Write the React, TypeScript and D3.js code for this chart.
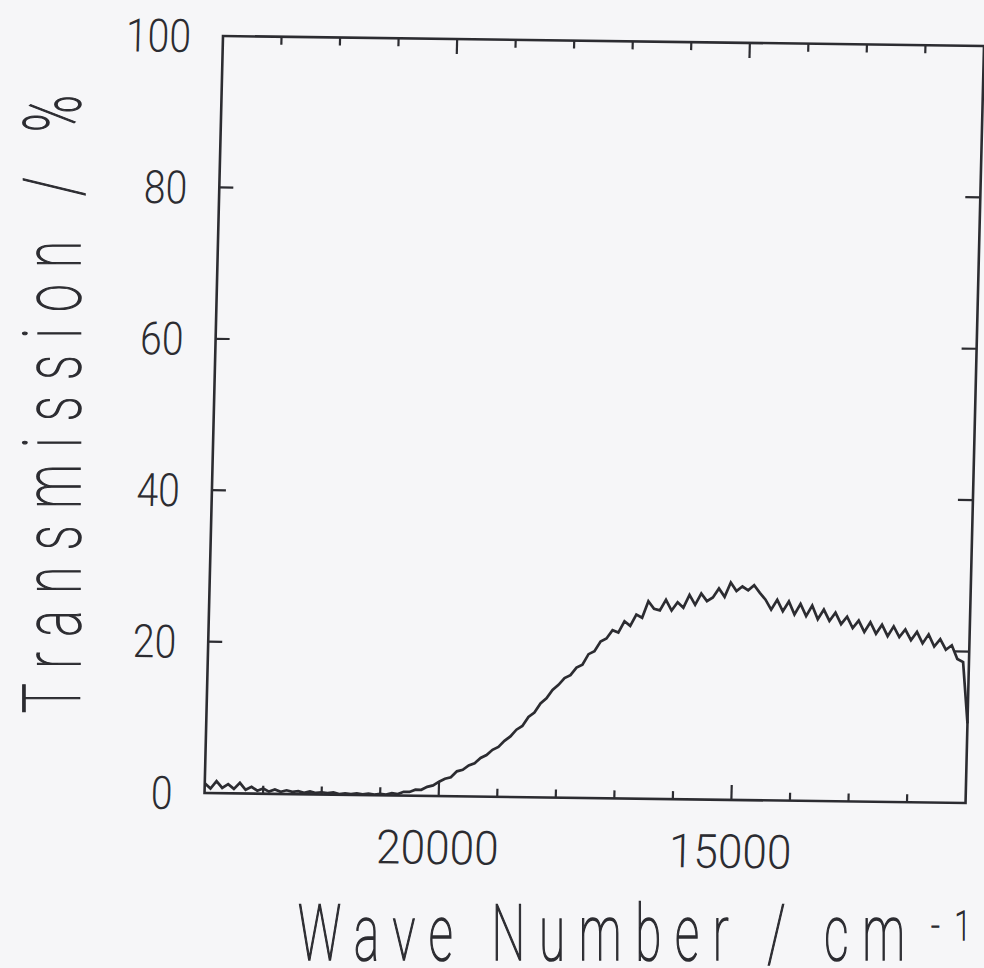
import React from "react";
import * as d3 from "d3";

// ---- data ----
const waveStart = 24000; // cm^-1, first sample
const waveStep = 100; // cm^-1 between samples
const transmission = [
  // 24000 -> 23100
  1.3, 0.6, 1.6, 0.7, 1.2, 0.6, 1.4, 0.5, 0.9, 0.4,
  // 23000 -> 22100
  0.7, 0.3, 0.6, 0.3, 0.5, 0.3, 0.4, 0.2, 0.4, 0.2,
  // 22000 -> 21100
  0.3, 0.2, 0.3, 0.1, 0.2, 0.1, 0.2, 0.1, 0.2, 0.1,
  // 21000 -> 20100
  0.2, 0.1, 0.3, 0.2, 0.5, 0.5, 0.8, 0.8, 1.2, 1.4,
  // 20000 -> 19100
  1.9, 2.3, 2.5, 3.3, 3.5, 4.1, 4.4, 5.1, 5.5, 6.2,
  // 19000 -> 18100
  6.6, 7.4, 8.0, 8.9, 9.4, 10.6, 11.2, 12.4, 13.1, 14.2,
  // 18000 -> 17100
  14.9, 15.8, 16.2, 17.2, 17.6, 19.0, 19.4, 20.7, 21.1, 22.2,
  // 17000 -> 16100
  21.9, 23.4, 22.8, 24.3, 23.9, 26.1, 25.1, 24.9, 26.3, 24.9,
  // 16000 -> 15100
  26.0, 25.3, 27.0, 25.7, 27.2, 26.2, 26.7, 27.9, 26.8, 28.7,
  // 15000 -> 14100
  27.6, 28.2, 27.7, 28.4, 27.4, 26.5, 25.2, 26.5, 25.0, 26.3,
  // 14000 -> 13100
  24.6, 26.0, 24.4, 25.8, 24.0, 25.3, 23.8, 24.9, 23.4, 24.4,
  // 13000 -> 12100
  22.9, 23.9, 22.4, 23.7, 22.2, 23.4, 21.9, 23.2, 21.8, 22.8,
  // 12000 -> 11100
  21.4, 22.5, 21.0, 22.2, 20.6, 21.6, 20.2, 20.8, 19.0, 18.6,
  // 11000
  10.5,
];
const xDomain = [24000, 11000];
const yDomain = [0, 100];
const xMajorTicks = [20000, 15000];
const xMinorTicks = [23000, 22000, 21000, 19000, 18000, 17000, 16000, 14000, 13000, 12000];
const yTicks = [20, 40, 60, 80];
const yTickLabels = ["0", "20", "40", "60", "80", "100"];
const yLabelValues = [0, 20, 40, 60, 80, 100];
const xTickLabels = ["20000", "15000"];
const xTitle = "Wave Number / cm";
const xTitleSup = "-1";
const yTitle = "Transmission / %";

// ---- layout ----
const W = 984;
const H = 968;
const PW = 761;
const PH = 757;
const INK = "#2c2c31";
const FONT = "Roboto, 'DejaVu Sans', sans-serif";

export default function App() {
  const x = d3.scaleLinear().domain(xDomain).range([0, PW]);
  const y = d3.scaleLinear().domain(yDomain).range([PH, 0]);
  const pts = transmission.map((v, i) => [waveStart - i * waveStep, v] as [number, number]);
  const line = d3
    .line<[number, number]>()
    .x((d) => x(d[0]))
    .y((d) => y(d[1]))
    .curve(d3.curveLinear);

  // slight skew of the scanned plot frame
  const frameMatrix = `matrix(1, 0.0131, -0.0244, 1, 223, 36)`;

  return (
    <svg
      width={W}
      height={H}
      style={{ position: "absolute", left: 0, top: 0, display: "block" }}
    >
      <rect x={0} y={0} width={W} height={H} fill="#f6f6f8" />
      <g transform={frameMatrix}>
        <rect x={0} y={0} width={PW} height={PH} fill="none" stroke={INK} strokeWidth={2.6} />
        {/* x ticks bottom & top */}
        {xMajorTicks.concat(xMinorTicks).map((t) => {
          const len = xMajorTicks.includes(t) ? 15 : 8;
          return (
            <g key={"xt" + t}>
              <line x1={x(t)} x2={x(t)} y1={PH} y2={PH - len} stroke={INK} strokeWidth={2.2} />
              <line x1={x(t)} x2={x(t)} y1={0} y2={len} stroke={INK} strokeWidth={2.2} />
            </g>
          );
        })}
        {/* y ticks left & right */}
        {yTicks.map((t) => (
          <g key={"yt" + t}>
            <line x1={0} x2={14} y1={y(t)} y2={y(t)} stroke={INK} strokeWidth={2.2} />
            <line x1={PW} x2={PW - 15} y1={y(t)} y2={y(t)} stroke={INK} strokeWidth={2.2} />
          </g>
        ))}
        {/* curve */}
        <path d={line(pts) || ""} fill="none" stroke={INK} strokeWidth={2.7} strokeLinejoin="miter" />
        {/* y tick labels */}
        {yLabelValues.map((v, i) => (
          <g key={"yl" + v} transform={`translate(${-32},${y(v) + 16.5}) scale(0.85,1)`}>
            <text textAnchor="end" fontFamily={FONT} fontWeight={300} fontSize={46} fill={INK}>
              {yTickLabels[i]}
            </text>
          </g>
        ))}
        {/* x tick labels */}
        {xMajorTicks.map((t, i) => (
          <g key={"xl" + t} transform={`translate(${x(t)},${PH + 68}) scale(0.94,1)`}>
            <text textAnchor="middle" fontFamily={FONT} fontWeight={300} fontSize={47} fill={INK}>
              {xTickLabels[i]}
            </text>
          </g>
        ))}
      </g>
      {/* x title */}
      <g transform={`translate(298,960) scale(0.62,1)`}>
        <text
          fontFamily={FONT}
          fontWeight={100}
          fontSize={77}
          fill={INK}
          stroke={INK}
          strokeWidth={1.6}
          textLength={607 / 0.62}
          lengthAdjust="spacing"
        >
          {xTitle}
        </text>
      </g>
      <g transform={`translate(931,940) scale(0.75,1)`}>
        <text
          fontFamily={FONT}
          fontWeight={100}
          fontSize={40}
          fill={INK}
          stroke={INK}
          strokeWidth={1.3}
          textLength={40 / 0.75}
          lengthAdjust="spacing"
        >
          {xTitleSup}
        </text>
      </g>
      {/* y title */}
      <g transform={`translate(80,713) rotate(-90) scale(0.62,1)`}>
        <text
          fontFamily={FONT}
          fontWeight={100}
          fontSize={80}
          fill={INK}
          stroke={INK}
          strokeWidth={1.6}
          textLength={618 / 0.62}
          lengthAdjust="spacing"
        >
          {yTitle}
        </text>
      </g>
    </svg>
  );
}
